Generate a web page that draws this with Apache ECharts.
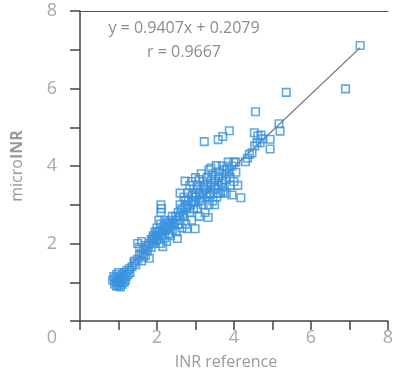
<!DOCTYPE html>
<html>
<head>
<meta charset="utf-8">
<script src="https://cdn.jsdelivr.net/npm/echarts@6/dist/echarts.min.js"></script>
<style>html,body{margin:0;padding:0;background:#fff}#c{width:396px;height:375px}</style>
</head>
<body>
<div id="c"></div>
<script>
// INR reference (x) and microINR (y) readings, paired by index
const inrReference = [
 0.85,0.90,0.92,0.95,0.97,1.00,1.00,1.02,1.05,1.05,1.08,1.10,1.10,1.12,1.15,1.15,1.20,1.22,1.25,1.28,0.88,0.95,1.00,1.30,1.35,
 1.40,1.45,1.50,1.55,1.60,1.60,1.65,1.70,1.70,1.75,1.50,1.55,1.80,1.80,1.85,1.60,
 1.85,1.90,1.90,1.95,2.00,2.00,2.05,2.10,2.10,2.15,2.15,2.20,2.20,2.25,2.30,2.30,2.35,2.40,2.40,2.45,2.50,2.50,2.53,2.10,2.10,2.12,2.05,2.25,2.00,1.95,2.35,
 2.55,2.55,2.60,2.60,2.65,2.65,2.70,2.70,2.73,2.75,2.78,2.80,2.80,2.85,2.85,2.90,2.90,2.95,2.95,2.99,3.00,3.00,2.60,2.75,2.90,
 3.05,3.05,3.10,3.10,3.15,3.15,3.20,3.20,3.25,3.25,3.30,3.30,3.33,3.35,3.35,3.40,3.40,3.45,3.45,3.50,3.50,3.54,3.55,3.60,3.60,3.20,3.10,3.40,3.50,
 3.65,3.70,3.70,3.75,3.80,3.80,3.85,3.90,3.90,3.95,4.00,4.00,4.05,4.05,4.10,4.18,3.95,3.75,
 4.30,4.35,4.40,4.47,4.54,4.60,4.62,4.70,4.68,4.75,4.94,4.94,5.17,5.20,4.56,5.36,6.90,7.28,
 3.23,3.59,3.71,3.88,4.53,
 1.88,1.92,1.98,2.02,2.08,2.12,2.18,2.22,2.28,2.32,2.38,2.42,2.48,2.58,2.62,2.68,2.72,2.78,2.82,2.88,2.92,2.97,3.02,3.08,3.12,3.18,3.22,3.28,3.32,3.38,3.42,3.48,3.52,3.58,3.62,3.68,3.72,3.78,3.82,3.88,1.72,1.78,1.65,1.42,1.18,1.02,0.93
];
const microINR = [
 1.05,0.95,1.10,0.90,1.00,0.92,1.08,1.15,0.98,0.88,1.05,1.20,0.95,1.10,1.00,1.25,1.15,1.30,1.20,1.35,1.15,1.20,1.25,1.25,1.40,
 1.50,1.45,1.60,1.70,1.55,1.75,1.85,1.70,1.95,1.80,2.00,1.90,1.62,2.00,2.10,2.05,
 1.90,2.20,2.00,2.30,2.10,2.40,2.20,2.50,2.00,1.92,2.30,2.60,2.15,2.40,2.50,2.25,2.60,2.35,2.70,2.50,2.30,2.60,2.13,2.80,3.00,2.90,2.60,2.05,2.25,2.05,2.20,
 2.80,2.50,3.00,2.60,2.40,2.90,3.20,2.70,3.61,2.50,2.38,3.00,3.30,2.80,3.50,3.10,2.60,3.40,2.90,2.38,3.70,3.20,3.30,3.10,3.60,
 2.90,3.50,3.30,2.70,3.80,3.10,3.60,3.00,3.40,2.80,3.70,3.20,2.67,3.90,3.00,3.50,3.30,3.80,3.10,3.60,3.40,4.01,3.20,3.70,3.50,3.45,3.65,3.95,3.00,
 3.30,3.60,4.00,3.45,3.80,3.30,4.10,3.50,3.70,4.00,3.60,4.10,3.84,4.10,3.50,3.18,3.25,3.90,
 4.11,4.20,4.30,4.34,4.52,4.60,4.78,4.80,4.60,4.70,4.69,4.44,5.09,4.90,5.40,5.90,5.99,7.11,
 4.63,4.68,4.76,4.91,4.86,
 2.10,2.15,2.20,2.30,2.35,2.20,2.45,2.35,2.55,2.40,2.45,2.55,2.70,2.70,2.85,2.75,2.95,2.90,3.15,3.00,3.25,3.05,3.30,3.40,3.15,3.25,3.50,3.30,3.55,3.25,3.65,3.45,3.75,3.30,3.85,3.55,3.35,3.65,3.95,3.85,1.85,1.95,1.65,1.55,1.05,1.00,1.00
];
// regression statistics printed on the chart
const slope = 0.9407;
const intercept = 0.2079;
const rValue = 0.9667;
const tickLabels = ['0','2','4','6','8'];

const points = inrReference.map((x, i) => [x, microINR[i]]);
const xMin = Math.min(...inrReference), xMax = Math.max(...inrReference);
const fitLine = [[xMin, slope * xMin + intercept], [xMax, slope * xMax + intercept]];

const chart = echarts.init(document.getElementById('c'), null, {renderer: 'canvas'});
const labelStyle = {color: '#a8a8a8', fontSize: 18, fontFamily: 'Open Sans'};
const showLabel = v => tickLabels.indexOf(String(v)) >= 0;
chart.setOption({
  animation: false,
  backgroundColor: '#fff',
  grid: {left: 80, right: 0, top: 11, bottom: 52, containLabel: false},
  graphic: [{
    type: 'text', silent: true, x: 184, y: 16,
    style: {
      text: 'y = ' + slope.toFixed(4) + 'x + ' + intercept.toFixed(4) + '\nr = ' + rValue.toFixed(4),
      fill: '#8c8c8c', font: '16px "Open Sans"', align: 'center', lineHeight: 24
    }
  }],
  xAxis: [{
    type: 'value', min: 0, max: 8, interval: 1,
    axisLine: {show: true, lineStyle: {color: '#444', width: 1.5}},
    axisTick: {show: true, length: 9, lineStyle: {color: '#444', width: 1.5}},
    splitLine: {show: false},
    axisLabel: Object.assign({}, labelStyle, {
      margin: 8,
      showMaxLabel: true,
      formatter: v => v === 0 ? '{z|0}' : (showLabel(v) ? String(v) : ''),
      rich: {z: Object.assign({}, labelStyle, {padding: [0, 56, 0, 0]})}
    }),
    name: 'INR reference', nameLocation: 'middle', nameGap: 33,
    nameTextStyle: {color: '#9a9a9a', fontSize: 16, fontFamily: 'Open Sans', padding: [0, 16, 0, 0]}
  }, {
    type: 'value', min: 0, max: 8, position: 'top',
    axisLine: {show: true, lineStyle: {color: '#555', width: 1.2}},
    axisTick: {show: false}, axisLabel: {show: false}, splitLine: {show: false}
  }],
  yAxis: {
    type: 'value', min: 0, max: 8, interval: 1,
    axisLine: {show: true, lineStyle: {color: '#444', width: 1.5}},
    axisTick: {show: true, length: 10, lineStyle: {color: '#444', width: 1.5}},
    splitLine: {show: false},
    axisLabel: Object.assign({}, labelStyle, {
      margin: 23,
      formatter: v => (v !== 0 && showLabel(v)) ? String(v) : ''
    }),
    name: '{a|micro}{b|INR}', nameLocation: 'middle', nameGap: 55,
    nameTextStyle: {
      rich: {
        a: {color: '#9a9a9a', fontSize: 16, fontFamily: 'Open Sans'},
        b: {color: '#9a9a9a', fontSize: 16, fontFamily: 'Open Sans', fontWeight: 'bold'}
      }
    }
  },
  series: [{
    type: 'line', data: fitLine, symbol: 'none', silent: true, z: 2,
    lineStyle: {color: '#7a6878', width: 1.2}
  }, {
    type: 'scatter', data: points, symbol: 'rect', symbolSize: 7.5, z: 3,
    itemStyle: {color: 'rgba(255,255,255,0)', borderColor: '#3a92dc', borderWidth: 1.6}
  }]
});
</script>
</body>
</html>
